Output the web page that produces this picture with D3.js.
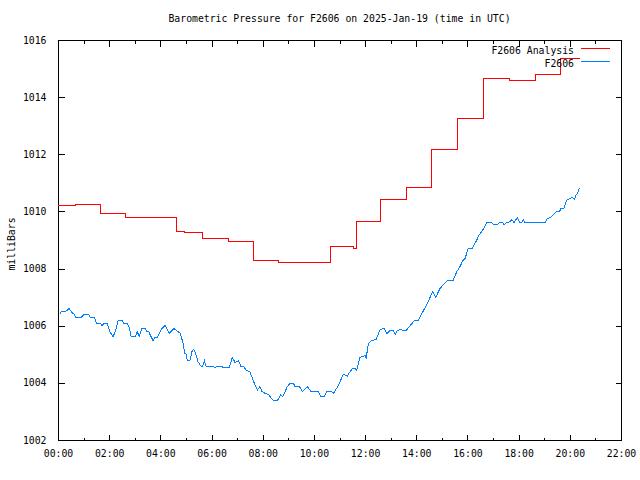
<!DOCTYPE html>
<html>
<head>
<meta charset="utf-8">
<script src="https://cdn.jsdelivr.net/npm/d3@7"></script>
<style>
  html, body { margin: 0; padding: 0; background: #fff; }
  svg { display: block; }
  text { font-family: "DejaVu Sans Mono", "Liberation Mono", monospace; font-size: 9.8px; fill: #000; }
</style>
</head>
<body>
<svg id="chart" width="640" height="480"></svg>
<script>
// ---- Data (time in hours UTC, pressure in mbar) ----
const titleText = "Barometric Pressure for F2606 on 2025-Jan-19 (time in UTC)";
const yLabel = "milliBars";
const seriesNames = ["F2606 Analysis", "F2606"];
const xTickHours = [0, 2, 4, 6, 8, 10, 12, 14, 16, 18, 20, 22];
const yTickValues = [1002, 1004, 1006, 1008, 1010, 1012, 1014, 1016];

// Analysis (step series): start hour of each step and its value
const analysisHours = [0.0, 0.70, 1.65, 2.65, 4.65, 4.95, 5.65, 6.65, 7.65, 8.60, 9.65, 10.65, 11.55, 11.65, 12.62, 13.63, 14.60, 15.60, 16.62, 17.64, 18.64, 19.64];
const analysisValues = [1010.22, 1010.26, 1009.93, 1009.79, 1009.30, 1009.27, 1009.06, 1008.95, 1008.27, 1008.20, 1008.23, 1008.79, 1008.71, 1009.65, 1010.42, 1010.84, 1012.17, 1013.26, 1014.66, 1014.59, 1014.78, 1015.37];
const analysisEndHour = 20.40;

// Observed F2606
const obsHours = [0.07,0.13,0.35,0.42,0.52,0.65,0.68,0.91,1.02,1.20,1.26,1.43,1.50,1.65,1.72,1.79,1.93,2.02,2.15,2.24,2.35,2.50,2.58,2.70,2.78,2.86,3.02,3.10,3.17,3.28,3.41,3.47,3.54,3.71,3.78,3.87,4.06,4.19,4.34,4.53,4.69,4.78,4.89,4.95,5.01,5.05,5.16,5.24,5.30,5.38,5.47,5.58,5.65,5.72,5.78,6.05,6.14,6.23,6.40,6.46,6.69,6.81,6.92,7.05,7.14,7.24,7.37,7.50,7.57,7.70,7.79,7.89,7.96,8.09,8.22,8.29,8.41,8.57,8.70,8.78,8.87,8.96,9.07,9.20,9.26,9.43,9.56,9.74,9.88,10.17,10.27,10.41,10.50,10.67,10.76,10.89,11.02,11.15,11.31,11.41,11.52,11.61,11.67,11.77,11.80,12.00,12.04,12.13,12.26,12.43,12.58,12.74,12.85,12.97,13.10,13.18,13.26,13.39,13.47,13.60,13.69,13.86,13.95,14.08,14.21,14.43,14.64,14.76,14.93,15.06,15.25,15.45,15.58,15.71,15.82,15.91,16.03,16.19,16.33,16.46,16.60,16.75,16.95,17.04,17.17,17.25,17.38,17.44,17.53,17.66,17.73,17.82,17.95,18.05,18.12,18.18,18.25,19.03,19.12,19.29,19.46,19.59,19.66,19.77,19.88,20.01,20.10,20.18,20.24,20.29,20.37];
const obsValues = [1006.40,1006.49,1006.52,1006.61,1006.49,1006.38,1006.29,1006.29,1006.40,1006.40,1006.29,1006.29,1006.08,1006.08,1006.01,1006.08,1006.08,1005.79,1005.62,1005.79,1006.18,1006.18,1006.08,1006.08,1005.94,1005.62,1005.62,1005.79,1005.62,1005.90,1005.90,1005.80,1005.80,1005.48,1005.59,1005.59,1005.90,1006.01,1005.73,1005.90,1005.79,1005.73,1005.38,1005.03,1005.01,1004.80,1004.80,1005.11,1005.17,1005.03,1004.74,1004.59,1004.59,1004.78,1004.59,1004.59,1004.53,1004.59,1004.59,1004.53,1004.53,1004.89,1004.71,1004.78,1004.59,1004.59,1004.43,1004.39,1004.22,1003.92,1003.75,1003.87,1003.71,1003.63,1003.60,1003.52,1003.38,1003.38,1003.57,1003.52,1003.69,1003.87,1003.98,1003.98,1003.87,1003.87,1003.69,1003.87,1003.71,1003.71,1003.52,1003.52,1003.71,1003.71,1003.63,1003.81,1004.04,1004.30,1004.24,1004.39,1004.51,1004.51,1004.43,1004.78,1004.89,1004.95,1004.86,1005.38,1005.48,1005.52,1005.85,1005.91,1005.71,1005.83,1005.83,1005.71,1005.83,1005.88,1005.83,1005.83,1005.93,1006.11,1006.20,1006.20,1006.41,1006.78,1007.19,1006.99,1007.31,1007.43,1007.60,1007.60,1007.89,1008.07,1008.28,1008.36,1008.71,1008.71,1008.94,1009.18,1009.35,1009.61,1009.61,1009.53,1009.53,1009.61,1009.61,1009.53,1009.61,1009.64,1009.72,1009.61,1009.79,1009.61,1009.61,1009.72,1009.61,1009.61,1009.74,1009.82,1009.99,1009.99,1010.11,1010.11,1010.40,1010.46,1010.49,1010.42,1010.57,1010.61,1010.81];

const colors = ["#ff0000", "#0080ff"];

// ---- Layout ----
const svg = d3.select("#chart");
const mLeft = 58, mRight = 621, mTop = 40, mBottom = 440;

const x = d3.scaleLinear().domain([0, 22]).range([mLeft, mRight]);
const y = d3.scaleLinear().domain([1002, 1016]).range([mBottom, mTop]);

const fmtHour = h => String(h).padStart(2, "0") + ":00";

// Frame
svg.append("rect")
  .attr("x", mLeft + 0.5).attr("y", mTop + 0.5)
  .attr("width", mRight - mLeft).attr("height", mBottom - mTop)
  .attr("fill", "none").attr("stroke", "#000").attr("stroke-width", 1)
  .attr("shape-rendering", "crispEdges");

// Axes with d3 axis generators (inward ticks, mirrored)
const majorLen = 6, minorLen = 3;
const minorHours = d3.range(1, 22, 2);

svg.append("g").attr("transform", `translate(0,${mBottom + 0.5})`)
  .call(d3.axisBottom(x).tickValues(xTickHours).tickFormat(fmtHour).tickSizeInner(-majorLen).tickSizeOuter(0).tickPadding(10));
svg.append("g").attr("transform", `translate(0,${mBottom + 0.5})`)
  .call(d3.axisBottom(x).tickValues(minorHours).tickFormat("").tickSizeInner(-minorLen).tickSizeOuter(0));
svg.append("g").attr("transform", `translate(0,${mTop + 0.5})`)
  .call(d3.axisTop(x).tickValues(xTickHours).tickFormat("").tickSizeInner(-majorLen).tickSizeOuter(0));
svg.append("g").attr("transform", `translate(0,${mTop + 0.5})`)
  .call(d3.axisTop(x).tickValues(minorHours).tickFormat("").tickSizeInner(-minorLen).tickSizeOuter(0));
svg.append("g").attr("transform", `translate(${mLeft + 0.5},0)`)
  .call(d3.axisLeft(y).tickValues(yTickValues).tickFormat(d3.format("d")).tickSizeInner(-majorLen).tickSizeOuter(0).tickPadding(12));
svg.append("g").attr("transform", `translate(${mRight + 0.5},0)`)
  .call(d3.axisRight(y).tickValues(yTickValues).tickFormat("").tickSizeInner(-majorLen).tickSizeOuter(0));

svg.selectAll(".domain").remove();
svg.selectAll(".tick line").attr("stroke", "#000").attr("shape-rendering", "crispEdges");
svg.selectAll(".tick text")
  .attr("fill", "#000")
  .style("font-family", '"DejaVu Sans Mono", "Liberation Mono", monospace')
  .style("font-size", "9.8px");

// Title
svg.append("text").attr("x", (mLeft + mRight) / 2).attr("y", 22)
  .attr("text-anchor", "middle").text(titleText);

// Y label
svg.append("text")
  .attr("transform", `translate(15,${(mTop + mBottom) / 2 + 4}) rotate(-90)`)
  .attr("text-anchor", "middle").text(yLabel);

// Series
const analysisData = analysisHours.map((h, i) => [h, analysisValues[i]]);
analysisData.push([analysisEndHour, analysisValues[analysisValues.length - 1]]);
const obsData = obsHours.map((h, i) => [h, obsValues[i]]);

const stepLine = d3.line().x(d => x(d[0])).y(d => y(d[1])).curve(d3.curveStepAfter);
const plainLine = d3.line().x(d => x(d[0])).y(d => y(d[1]));

svg.append("path").datum(analysisData)
  .attr("d", stepLine).attr("fill", "none")
  .attr("stroke", colors[0]).attr("stroke-width", 1)
  .attr("shape-rendering", "crispEdges");

svg.append("path").datum(obsData)
  .attr("d", plainLine).attr("fill", "none")
  .attr("stroke", colors[1]).attr("stroke-width", 1)
  .attr("shape-rendering", "crispEdges");

// Legend
const legendY = [50, 63];
seriesNames.forEach((name, i) => {
  svg.append("text").attr("x", 574).attr("y", legendY[i] + 3.5)
    .attr("text-anchor", "end").text(name);
  svg.append("line")
    .attr("x1", 581).attr("x2", 610)
    .attr("y1", legendY[i] - 1.5).attr("y2", legendY[i] - 1.5)
    .attr("stroke", colors[i]).attr("stroke-width", 1)
    .attr("shape-rendering", "crispEdges");
});
</script>
</body>
</html>
